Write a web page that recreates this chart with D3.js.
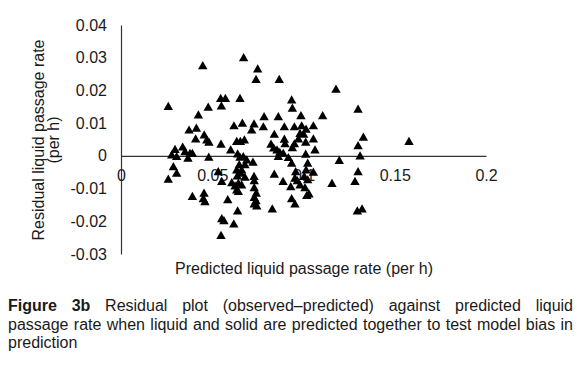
<!DOCTYPE html>
<html>
<head>
<meta charset="utf-8">
<script src="https://cdn.jsdelivr.net/npm/d3@7"></script>
<style>
body{margin:0;background:#fff;}
svg{display:block;}
text{font-family:"Liberation Sans",Arial,sans-serif;}
</style>
</head>
<body>
<div id="chart"></div>
<script>
// predicted liquid passage rate (per h)
var predicted = [
 0.0448,0.0672,0.0749,0.0740,0.0867,0.1178,0.0259,0.0546,0.0572,0.0550,
 0.0652,0.0478,0.0424,0.0935,0.0939,0.1299,0.0784,0.0862,0.0986,0.1105,
 0.0619,0.0665,0.0729,0.0716,0.0780,0.0895,0.0950,0.0990,0.1014,0.1054,
 0.0373,0.0413,0.0409,0.0456,0.0470,0.0482,0.0548,0.0634,0.0654,0.0676,
 0.0601,0.0840,0.0981,0.1001,0.1328,0.0895,0.0899,0.0972,0.1012,0.1054,
 0.1578,0.0822,0.0837,0.0855,0.0870,0.0889,0.0950,0.0939,0.1063,0.1299,
 0.0296,0.0338,0.0351,0.0378,0.0367,0.0305,0.0278,0.0391,0.0481,0.0862,
 0.0917,0.1012,0.1310,0.1196,0.0679,0.0723,0.0935,0.1023,0.0287,0.0305,
 0.0259,0.0533,0.0552,0.0639,0.0652,0.0670,0.0689,0.0648,0.0661,0.0634,
 0.0656,0.0637,0.0679,0.0607,0.0625,0.0643,0.0661,0.0634,0.0643,0.0840,
 0.0957,0.1014,0.1054,0.1156,0.1299,0.1282,0.0729,0.0730,0.0888,0.0953,
 0.0966,0.1004,0.1023,0.0930,0.0981,0.1008,0.0730,0.0741,0.0730,0.0740,
 0.0730,0.0744,0.1018,0.1030,0.0935,0.0953,0.0829,0.1295,0.1321,0.0391,
 0.0455,0.0451,0.0460,0.0585,0.0639,0.0552,0.0564,0.0618,0.0548
];
// residual, observed - predicted (per h)
var residual = [
 0.0276,0.0300,0.0266,0.0234,0.0234,0.0204,0.0151,0.0176,0.0176,0.0153,
 0.0176,0.0149,0.0125,0.0171,0.0146,0.0143,0.0120,0.0120,0.0123,0.0123,
 0.0092,0.0100,0.0098,0.0079,0.0089,0.0089,0.0089,0.0092,0.0082,0.0092,
 0.0079,0.0085,0.0052,0.0064,0.0049,0.0042,0.0036,0.0044,0.0044,0.0049,
 0.0018,0.0066,0.0069,0.0066,0.0057,0.0051,0.0037,0.0052,0.0042,0.0052,
 0.0044,0.0036,0.0024,0.0018,0.0011,0.0008,0.0037,0.0025,0.0018,0.0031,
 0.0020,0.0027,0.0013,0.0008,-0.0007,-0.0002,0.0003,0.0008,-0.0004,-0.0002,
 -0.0005,0.0005,0.0000,-0.0014,-0.0027,-0.0019,-0.0022,-0.0022,-0.0033,-0.0053,
 -0.0071,-0.0048,-0.0078,0.0006,-0.0004,-0.0002,-0.0012,-0.0027,-0.0043,-0.0043,
 -0.0053,-0.0061,-0.0065,-0.0082,-0.0092,-0.0083,-0.0089,-0.0104,-0.0109,-0.0056,
 -0.0048,-0.0043,-0.0050,-0.0084,-0.0048,-0.0078,-0.0063,-0.0076,-0.0078,-0.0068,
 -0.0076,-0.0063,-0.0073,-0.0094,-0.0089,-0.0097,-0.0097,-0.0114,-0.0127,-0.0137,
 -0.0147,-0.0153,-0.0121,-0.0116,-0.0131,-0.0147,-0.0162,-0.0168,-0.0162,-0.0124,
 -0.0114,-0.0131,-0.0140,-0.0134,-0.0168,-0.0192,-0.0198,-0.0208,-0.0243
];
var xTicks = [0, 0.05, 0.1, 0.15, 0.2];
var yTicks = [0.04, 0.03, 0.02, 0.01, 0, -0.01, -0.02, -0.03];
var xTitle = "Predicted liquid passage rate (per h)";
var yTitle = ["Residual liquid passage rate", "(per h)"];
var captionLead = ["Figure", "3b"];
var captionLines = [
 "Residual plot (observed\u2013predicted) against predicted liquid",
 "passage rate when liquid and solid are predicted together to test model bias in",
 "prediction"
];

var W = 580, H = 366;
var svg = d3.select("#chart").append("svg")
  .attr("width", W).attr("height", H);

var x = d3.scaleLinear().domain([0, 0.2]).range([121, 486]);
var y = d3.scaleLinear().domain([-0.03, 0.04]).range([254, 25]);
var ink = "#1a1a1a";

// y axis (no tick marks, labels only)
var gy = svg.append("g")
  .attr("transform", "translate(" + x(0) + ",0)")
  .call(d3.axisLeft(y).tickValues(yTicks).tickSize(0).tickPadding(14)
    .tickFormat(function(d){ return String(d); }));
// x axis sits on the zero residual line
var gx = svg.append("g")
  .attr("transform", "translate(0," + y(0) + ")")
  .call(d3.axisBottom(x).tickValues(xTicks).tickSize(0).tickPadding(14)
    .tickFormat(function(d){ return String(d); }));
svg.selectAll(".domain").attr("stroke", "#333").attr("stroke-width", 1.2);
svg.selectAll(".tick text")
  .attr("font-size", 16).attr("fill", ink)
  .style("font-family", '"Liberation Sans",Arial,sans-serif');

// axis titles
svg.append("text")
  .attr("x", 304).attr("y", 274)
  .attr("text-anchor", "middle").attr("font-size", 16).attr("fill", ink)
  .text(xTitle);
var yt = svg.append("text")
  .attr("transform", "translate(44,140) rotate(-90)")
  .attr("text-anchor", "middle").attr("font-size", 16).attr("fill", ink);
yTitle.forEach(function(s, i){
  yt.append("tspan").attr("x", 0).attr("dy", i === 0 ? 0 : 15).text(s);
});

// triangle markers
var tri = "M0,-4.6L4.7,3.6L-4.7,3.6Z";
svg.append("g").selectAll("path")
  .data(predicted.map(function(p, i){ return {p: p, r: residual[i]}; }))
  .enter().append("path")
  .attr("d", tri)
  .attr("transform", function(d){ return "translate(" + x(d.p) + "," + y(d.r) + ")"; })
  .attr("fill", "#000");

// caption, justified between left and right margins
var capL = 8, capR = 573, capY = 311, capLH = 18.5;
var cap = svg.append("g").attr("font-size", 16).attr("fill", ink);
captionLines.forEach(function(line, i){
  var words = line.split(" ").map(function(w){ return {w: w, bold: false}; });
  if (i === 0) words = captionLead.map(function(w){ return {w: w, bold: true}; }).concat(words);
  var nodes = cap.selectAll(null).data(words).enter().append("text")
    .attr("y", capY + i * capLH)
    .attr("font-weight", function(d){ return d.bold ? "bold" : "normal"; })
    .text(function(d){ return d.w; });
  var widths = [];
  nodes.each(function(){ widths.push(this.getComputedTextLength()); });
  var total = d3.sum(widths);
  var gap = (i < captionLines.length - 1 && words.length > 1)
    ? (capR - capL - total) / (words.length - 1) : 4.45;
  var cx = capL;
  nodes.attr("x", function(d, k){ var v = cx; cx += widths[k] + gap; return v; });
});
</script>
</body>
</html>
